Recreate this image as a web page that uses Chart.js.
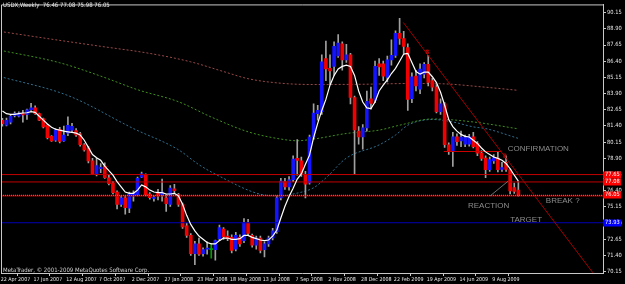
<!DOCTYPE html>
<html><head><meta charset="utf-8">
<script src="https://cdn.jsdelivr.net/npm/chart.js@4/dist/chart.umd.min.js"></script>
<style>html,body{margin:0;padding:0;background:#000;overflow:hidden}canvas{display:block}</style>
</head><body>
<canvas id="c" width="625" height="284"></canvas>
<script>
// ---- data (weekly USDX, week index 0 = 22 Apr 2007) ----
const weekLabels = ['22 Apr 2007','17 Jun 2007','12 Aug 2007','7 Oct 2007','2 Dec 2007','27 Jan 2008','23 Mar 2008','18 May 2008','13 Jul 2008','7 Sep 2008','2 Nov 2008','28 Dec 2008','22 Feb 2009','19 Apr 2009','14 Jun 2009','9 Aug 2009'];
const labelWeeks = [0,8,16,24,32,40,48,56,64,72,80,88,96,104,112,120];
const yTicks = [90.15,88.90,87.65,86.40,85.15,83.90,82.65,81.40,80.15,78.90,77.65,76.40,75.15,73.90,72.65,71.40,70.15];

const opens = [81.84,81.46,81.70,82.20,82.15,82.35,82.30,82.65,82.80,82.35,81.95,81.45,80.60,80.30,81.15,80.25,80.85,81.07,81.05,80.80,79.95,79.70,78.70,77.65,78.10,78.30,77.40,77.00,76.30,75.35,75.85,75.05,76.00,76.10,77.45,77.65,76.15,75.80,76.25,76.10,75.85,75.35,76.55,76.10,75.35,73.70,72.95,71.55,72.30,71.55,71.90,71.85,71.85,72.70,73.45,72.90,72.80,71.90,72.80,72.55,73.95,72.95,72.20,72.75,71.85,72.30,72.75,73.25,75.85,77.10,76.70,77.25,78.90,78.70,77.60,77.00,80.55,82.35,82.50,86.60,85.85,86.00,86.80,87.75,86.50,86.90,83.60,81.00,80.55,81.25,83.50,83.40,86.20,86.20,85.15,86.50,86.85,88.55,88.15,87.45,83.50,85.25,84.25,85.40,86.15,84.90,84.40,82.50,83.10,79.95,79.43,80.57,80.25,80.00,80.00,80.57,80.06,79.30,78.92,78.03,78.70,78.92,78.05,78.60,78.03,76.65,76.46];
const highs = [81.99,82.00,82.30,82.50,82.50,82.60,82.70,83.15,82.95,82.40,82.00,81.50,80.65,81.20,81.30,81.40,82.10,81.60,81.20,80.90,80.05,79.80,78.90,78.90,78.50,78.55,77.60,77.10,76.40,76.00,76.00,76.30,76.40,77.45,77.85,77.70,76.25,76.00,76.50,77.30,76.10,76.80,76.90,76.20,75.45,73.90,73.10,72.50,72.75,72.00,72.45,72.35,72.60,73.75,73.55,73.30,73.00,73.20,73.00,74.25,74.20,73.05,72.90,72.90,72.45,72.90,73.50,76.00,77.35,77.35,77.50,79.10,80.35,79.00,77.90,80.70,83.10,83.00,86.90,87.95,86.90,87.90,88.45,87.90,87.70,87.00,83.70,81.35,81.50,84.10,84.40,86.40,86.60,86.40,86.80,88.05,88.75,89.70,88.70,87.75,85.50,85.70,86.20,86.30,86.85,85.10,84.60,83.50,83.20,80.10,80.90,80.80,81.00,80.70,80.75,80.90,80.20,79.50,79.10,79.00,79.20,79.40,78.60,79.10,78.10,77.00,77.08];
const lows = [81.38,81.40,81.55,82.10,82.10,81.70,81.90,82.60,82.30,81.80,81.25,80.40,80.20,80.20,80.10,80.20,80.65,80.90,80.60,79.85,79.45,78.55,77.65,77.55,77.80,77.35,76.85,76.15,75.00,75.20,74.60,74.70,75.60,76.00,77.40,76.00,75.75,75.60,75.70,75.60,74.80,75.20,76.20,75.20,73.50,72.80,71.40,70.70,71.40,71.35,71.50,71.20,71.05,72.55,72.65,72.55,71.60,71.75,72.10,72.40,72.95,72.05,71.90,71.60,71.30,72.10,72.60,73.10,75.70,76.50,76.45,77.10,77.60,77.50,75.85,76.90,80.40,81.85,82.30,84.90,84.60,85.30,86.70,85.70,86.30,83.10,77.70,80.00,79.60,81.00,82.70,83.20,85.30,84.90,84.80,86.10,86.70,87.70,87.00,82.60,83.20,84.10,83.90,85.10,84.50,84.10,82.40,82.30,79.75,79.20,78.28,79.90,79.80,79.80,79.85,79.70,79.10,78.75,77.40,77.90,78.50,77.85,77.90,77.90,76.15,76.20,75.98];
const closes = [81.58,81.84,82.15,82.35,82.40,82.25,82.65,82.80,82.35,81.85,81.33,80.50,80.25,81.10,80.20,80.70,81.45,81.38,80.70,79.95,79.55,78.70,77.70,78.35,78.20,77.40,76.95,76.25,75.35,75.85,75.10,76.12,76.20,77.35,77.70,76.10,75.87,75.90,76.00,76.30,75.40,76.60,76.40,75.35,73.60,72.95,71.55,72.30,71.50,71.85,71.95,71.85,72.55,73.55,72.85,72.70,71.80,72.95,72.30,73.95,73.10,72.20,72.75,71.80,72.30,72.75,73.30,75.85,77.15,76.70,77.25,78.85,78.75,77.75,76.90,80.55,82.40,82.60,86.35,85.80,85.65,87.55,87.80,86.50,86.90,83.60,81.10,80.55,81.25,83.30,83.15,86.00,85.95,85.25,86.50,86.85,88.55,88.15,87.55,83.45,85.20,84.50,85.80,86.15,84.76,84.40,82.50,83.10,79.95,79.43,80.57,80.19,80.55,80.50,80.57,79.81,79.30,78.90,78.03,78.80,78.95,78.03,78.18,78.05,76.38,76.35,76.05];

// fast moving average (white)
const fastMA = [82.55,82.35,82.30,82.30,82.35,82.40,82.42,82.50,82.45,82.15,81.85,81.55,81.30,81.15,81.08,81.00,80.95,80.90,80.85,80.70,80.30,79.75,79.20,78.95,78.75,78.30,77.95,77.60,77.10,76.70,76.30,76.20,76.20,76.45,76.85,76.70,76.45,76.30,76.25,76.25,76.15,76.15,76.20,76.00,75.35,74.50,73.80,73.30,72.90,72.65,72.40,72.30,72.30,72.55,72.75,72.75,72.65,72.65,72.70,72.95,72.95,72.80,72.70,72.60,72.55,72.60,72.90,73.35,74.30,75.20,75.95,76.60,77.30,77.70,78.45,79.15,80.50,81.60,82.60,83.45,84.55,85.30,85.80,86.00,86.10,86.00,85.30,84.10,83.25,82.80,82.75,83.25,84.10,84.55,84.95,85.45,85.85,86.40,86.95,87.00,86.30,85.60,85.40,85.55,85.55,85.20,84.75,84.00,83.00,81.90,81.35,81.00,80.75,80.60,80.55,80.30,80.05,79.70,79.40,79.20,79.00,78.90,78.75,78.50,78.10,77.60,77.15];

// slow dotted averages, read at a few weeks
const maRedAt = [-0.6,12,24,36,46,54,60,68,76,88,100,108,116,126];
const maRed = [88.70,88.10,87.55,87.00,86.35,85.60,85.05,84.70,84.60,84.62,84.68,84.65,84.45,84.15];
const maGreenAt = [-0.6,14,24,33,43,51,60,68,72,76,84,92,97,105,115,126];
const maGreen = [87.25,86.28,85.25,84.20,83.27,82.09,80.95,80.39,80.26,80.39,80.82,81.08,81.46,81.94,81.71,81.18];
const maBlueAt = [-0.6,16,32,43,48,53,63,68,71,76,79,84,92,96,99,105,110,115,118,126];
const maBlue = [85.22,83.75,81.20,79.56,78.41,77.52,76.13,76.00,76.15,76.63,77.39,78.92,79.94,80.70,81.46,81.90,81.71,81.33,81.20,80.44];

// horizontal levels
const redLevels = [77.65, 77.08, 76.00];
const blueLevel = 73.93;
const bidLevel = 76.05;
// drawn lines (week, price)
const trendLine = [[97.9, 89.39],[144.2, 70.07]];
const reactionLine = [[119.1, 76.00],[123.5, 77.14]];
const confirmLine = [[107.8, 79.43],[121.9, 79.43]];
const markers = [[103.8, 87.05],[122.7, 79.05]];
const notes = [['CONFIRMATION',123.4,79.65],['BREAK ?',132.7,75.61],['REACTION',113.7,75.23],['TARGET',124.0,74.18]];
const axisBoxes = [[77.65,'77.65','#ff0000'],[77.08,'77.08','#ff0000'],[76.05,'76.05','#ff0000'],[73.93,'73.93','#0000ff']];

// ---- chart ----
const X_MIN = -0.342, X_MAX = 146.67;
const NARROW = "'Liberation Sans Narrow','DejaVu Sans Condensed','Liberation Sans',sans-serif";
const BULL = '#1414ff', BEAR = '#f00000', DOJI = '#00a000', WICK = '#a0a0a0';
const idx = opens.map((_, i) => i);
const pts = (xs, ys) => xs.map((x, k) => ({x, y: ys[k]}));
const pairs = a => a.map(p => ({x: p[0], y: p[1]}));
const hline = v => [{x: X_MIN, y: v}, {x: X_MAX, y: v}];

const datasets = [
  {type:'line', data: pts(maRedAt, maRed), borderColor:'#9a4848', borderWidth:1, borderDash:[2,2], pointRadius:0, cubicInterpolationMode:'monotone', order:30},
  {type:'line', data: pts(maGreenAt, maGreen), borderColor:'#3f8f1f', borderWidth:1, borderDash:[2,2], pointRadius:0, cubicInterpolationMode:'monotone', order:30},
  {type:'line', data: pts(maBlueAt, maBlue), borderColor:'#2f6f8f', borderWidth:1, borderDash:[2,2], pointRadius:0, cubicInterpolationMode:'monotone', order:30},
  {type:'bar', data: idx.map(i => ({x:i, y:[lows[i], highs[i]]})), backgroundColor: idx.map(i => opens[i] === closes[i] ? DOJI : WICK), barThickness:1, grouped:false, order:20},
  {type:'bar', data: idx.map(i => ({x:i, y:[opens[i], closes[i]]})), backgroundColor: idx.map(i => closes[i] > opens[i] ? BULL : (closes[i] < opens[i] ? BEAR : DOJI)), barThickness:3, minBarLength:1, grouped:false, order:19},
  ...redLevels.map(v => ({type:'line', data: hline(v), borderColor:'#c00000', borderWidth:1, pointRadius:0, order:10})),
  {type:'line', data: hline(blueLevel), borderColor:'#0000b4', borderWidth:1, pointRadius:0, order:10},
  {type:'line', data: hline(bidLevel), borderColor:'#909090', borderWidth:1, borderDash:[1,1], pointRadius:0, order:9},
  {type:'line', data: pairs(confirmLine), borderColor:'#d00000', borderWidth:1, pointRadius:0, order:8},
  {type:'line', data: pairs(reactionLine), borderColor:'#707070', borderWidth:1, pointRadius:0, order:8},
  {type:'line', data: idx.map(i => ({x:i, y:fastMA[i]})), borderColor:'#ffffff', borderWidth:1.2, pointRadius:0, order:5},
  {type:'line', data: pairs(trendLine), borderColor:'#a00000', borderWidth:1, pointRadius:0, order:4},
];

const decor = {
  id:'decor',
  afterDraw(chart){
    const {ctx, chartArea:a, scales:{x, y}} = chart;
    ctx.save();
    // frame top + left
    ctx.strokeStyle = '#c8c8c8'; ctx.lineWidth = 1;
    ctx.beginPath(); ctx.moveTo(a.left + 0.5, a.bottom); ctx.lineTo(a.left + 0.5, a.top + 0.5); ctx.lineTo(a.right, a.top + 0.5); ctx.stroke();
    // annotations
    ctx.textBaseline = 'middle'; ctx.textAlign = 'left';
    ctx.fillStyle = '#8c8c8c'; ctx.font = "8px 'Liberation Sans', Arial, sans-serif";
    notes.forEach(n => ctx.fillText(n[0], x.getPixelForValue(n[1]), y.getPixelForValue(n[2])));
    ctx.fillStyle = '#c00000'; ctx.font = "bold 6px " + NARROW; ctx.textAlign = 'center';
    markers.forEach(m => ctx.fillText('8', x.getPixelForValue(m[0]), y.getPixelForValue(m[1])));
    // title + copyright
    ctx.textAlign = 'left';
    ctx.fillStyle = '#e8e8e8'; ctx.font = "6px " + NARROW;
    ctx.fillText('USDX,Weekly  76.46 77.08 75.98 76.05', 3, 5.5);
    ctx.fillStyle = '#d0d0d0';
    ctx.fillText('MetaTrader, \u00a9 2001-2009 MetaQuotes Software Corp.', 3, 270);
    // price boxes on the axis
    ctx.font = "5.7px " + NARROW;
    axisBoxes.forEach(b => {
      const py = Math.round(y.getPixelForValue(b[0]));
      ctx.fillStyle = b[2]; ctx.fillRect(a.right, py - 3.5, 18, 7);
      ctx.fillStyle = '#ffffff'; ctx.fillText(b[1], a.right + 2, py);
    });
    ctx.restore();
  }
};

new Chart(document.getElementById('c'), {
  type:'bar',
  data:{datasets},
  options:{
    responsive:false, animation:false, devicePixelRatio:1, events:[],
    layout:{padding:{left:1, top:1, right:0, bottom:0}},
    plugins:{legend:{display:false}, tooltip:{enabled:false}},
    scales:{
      x:{type:'linear', min:X_MIN, max:X_MAX, offset:false,
        grid:{display:true, drawOnChartArea:false, drawTicks:true, tickLength:3, color:'#c8c8c8'},
        border:{display:true, color:'#c8c8c8'},
        ticks:{autoSkip:false, maxRotation:0, minRotation:0, align:'start', padding:0, color:'#e6e6e6', font:{family:NARROW, size:5.3}, callback:(v, i) => weekLabels[i]},
        afterBuildTicks: s => { s.ticks = labelWeeks.map(w => ({value: w - 0.4})); },
        afterFit: s => { s.height = 11; }
      },
      y:{type:'linear', position:'right', min:70.051, max:90.783,
        grid:{display:true, drawOnChartArea:false, drawTicks:true, tickLength:3, color:'#c8c8c8'},
        border:{display:true, color:'#c8c8c8'},
        ticks:{padding:1, color:'#e6e6e6', crossAlign:'near', font:{family:NARROW, size:5.7}, callback: v => v.toFixed(2)},
        afterBuildTicks: s => { s.ticks = yTicks.map(v => ({value: v})); },
        afterFit: s => { s.width = 22; }
      }
    }
  },
  plugins:[decor]
});
</script>
</body></html>
